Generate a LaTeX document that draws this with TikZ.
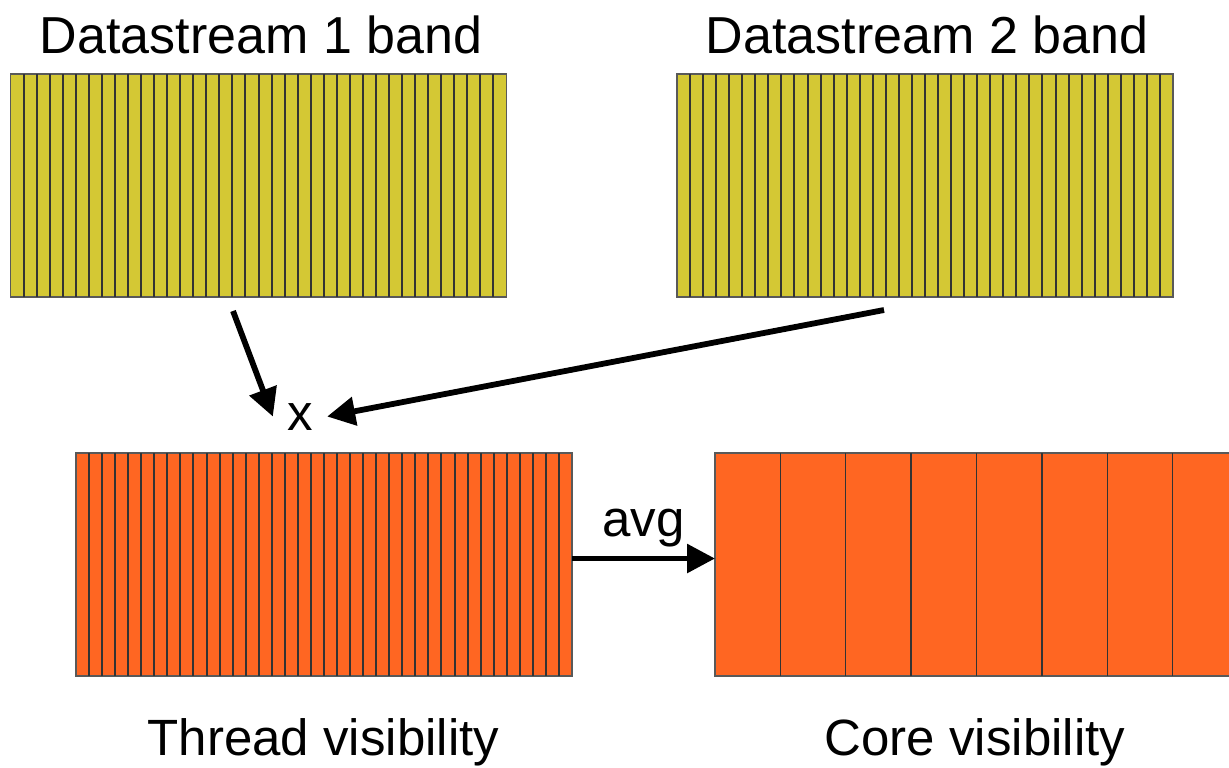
\documentclass[tikz,border=0pt]{standalone}
\usepackage{fontspec}
\setmainfont{Liberation Sans}
\usetikzlibrary{arrows.meta,calc}
\definecolor{bandyellow}{RGB}{212,200,52}
\definecolor{visorange}{RGB}{255,102,34}
\tikzset{
	band/.style={draw=black!65,line width=0.6pt,inner sep=0pt,outer sep=0pt,
		minimum width=248pt,minimum height=111.5pt},
	stripe/.style={draw=black!80,line width=1pt},
	conn/.style={->,line width=2.9pt},
	caption/.style={font=\fontsize{25.5}{30}\selectfont,inner sep=0pt,anchor=base}
}
\begin{document}
\begin{tikzpicture}[x=0.5pt,y=-0.5pt,line
	join=miter,>={Triangle[length=14pt,width=14pt]}]
	\useasboundingbox (0,0) rectangle (1229,767);
	\clip (0,0) rectangle (1229,767);
	\def\nthin{38}
	\def\ncore{8}
	% the bands
	\node[band,fill=bandyellow] (ds1) at (258.5,185.5) {};
	\node[band,fill=bandyellow] (ds2) at (925,185.5) {};
	\node[band,fill=visorange] (thr) at (324,564.5) {};
	\node[band,fill=visorange,minimum width=261.5pt] (core) at (976.5,564.5) {};
	\foreach \b in {ds1,ds2,thr}
	\foreach \i in {1,...,37}
	\draw[stripe] ($(\b.north west)!\i/\nthin!(\b.north east)$)
	-- ($(\b.south west)!\i/\nthin!(\b.south east)$);
	\foreach \i in {1,...,7}
	\draw[stripe,line width=0.7pt] ($(core.north west)!\i/\ncore!(core.north east)$)
	-- ($(core.south west)!\i/\ncore!(core.south east)$);
	% captions
	\node[caption,font=\fontsize{26}{30}\selectfont] (t1) at (261,53) {Datastream 1 band};
	\node[caption,font=\fontsize{26}{30}\selectfont] (t2) at (927,53) {Datastream 2 band};
	\node[caption] (t3) at (323.5,755) {Thread visibility};
	\node[caption] (t4) at (975,755) {Core visibility};
	\node[caption,inner sep=7pt] (mul) at (300,430) {x};
	% arrows
	\path (233,311) coordinate (s1)
	(884,310) coordinate (s2);
	\draw[conn] (s1)--(mul.west);
	\draw[conn] (s2)--(mul.east);
	\draw[conn] ($(thr.east)+(0,-6)$)--($(core.west)+(0,-6)$)
	node[midway,above=1pt,font=\fontsize{25.5}{30}\selectfont] (avg) {avg};
\end{tikzpicture}
\end{document}
